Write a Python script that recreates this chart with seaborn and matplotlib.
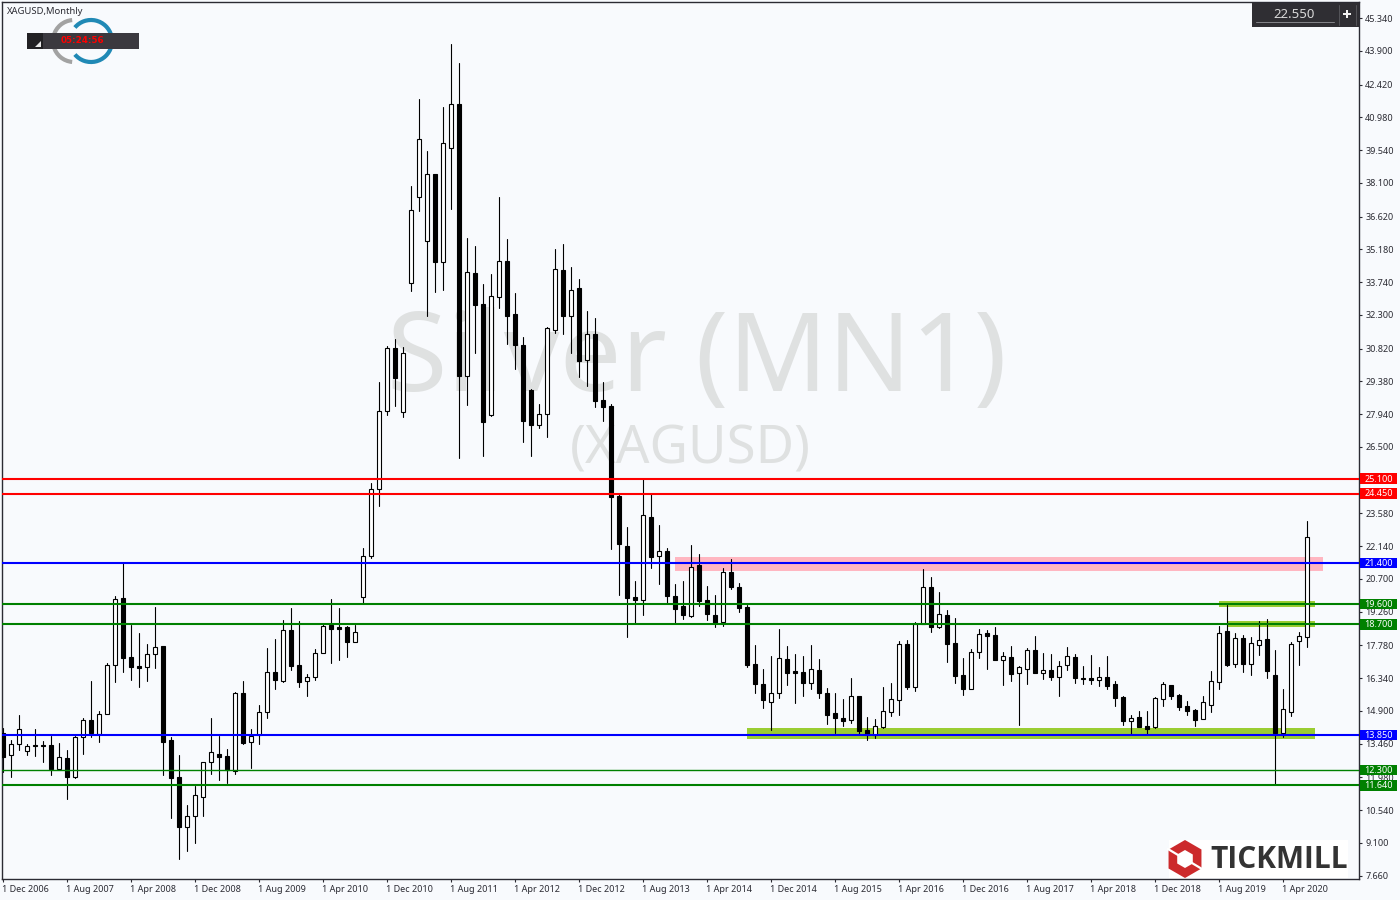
import numpy as np
import pandas as pd
import matplotlib
matplotlib.use("Agg")
import matplotlib.pyplot as plt
import matplotlib.transforms as mtrans
import seaborn as sns
from matplotlib.patches import Rectangle, Arc, Polygon, RegularPolygon

# monthly XAGUSD candles, Dec 2006 to Jul 2020
opens = [13.92, 12.95, 13.47, 13.12, 13.39, 13.39, 13.39, 12.36, 12.82, 12.01,
         13.74, 14.49, 13.90, 14.75, 16.90, 19.85, 17.25, 16.87, 16.81, 17.39,
         17.74, 13.61, 12.02, 9.81, 10.27, 11.10, 12.64, 12.99, 12.90, 12.26,
         15.69, 13.55, 13.84, 14.84, 16.60, 16.23, 18.44, 16.91, 16.23, 16.41,
         17.43, 18.68, 18.57, 18.57, 17.95, 19.92, 21.72, 24.67, 28.06, 30.83,
         28.02, 33.69, 37.47, 35.53, 38.48, 34.64, 39.62, 41.55, 29.63, 34.14,
         32.77, 27.92, 33.07, 34.66, 32.33, 30.96, 29.00, 27.48, 27.93, 31.65,
         34.27, 32.27, 33.47, 30.31, 31.46, 28.55, 28.30, 24.34, 22.15, 19.90,
         19.79, 23.42, 21.69, 21.91, 19.95, 19.51, 19.08, 21.31, 19.77, 19.11,
         18.79, 21.00, 20.34, 19.46, 16.96, 16.08, 15.30, 15.70, 17.18, 16.65,
         16.61, 16.11, 16.70, 15.69, 14.81, 14.59, 14.50, 15.55, 14.06, 13.84,
         14.19, 14.85, 15.38, 17.84, 15.95, 18.72, 20.34, 18.59, 19.11, 17.88,
         16.48, 15.86, 17.49, 18.32, 18.23, 17.14, 17.27, 16.56, 16.74, 17.58,
         16.56, 16.70, 16.39, 16.92, 17.27, 16.33, 16.35, 16.27, 16.39, 16.08,
         15.51, 14.47, 14.63, 14.24, 14.19, 15.41, 16.04, 15.60, 15.12, 14.94,
         14.56, 15.18, 16.19, 18.41, 16.98, 18.11, 16.98, 17.81, 18.06, 16.48,
         13.95, 14.87, 17.99, 18.16]
closes = [12.86, 13.47, 14.09, 13.34, 13.38, 13.37, 12.36, 12.86, 12.01, 13.74,
          14.49, 13.94, 14.75, 16.90, 19.80, 17.21, 16.84, 16.80, 17.39, 17.69,
          13.55, 11.97, 9.81, 10.27, 11.19, 12.64, 13.08, 12.89, 12.30, 15.67,
          13.49, 13.80, 14.84, 16.60, 16.27, 18.44, 16.89, 16.19, 16.41, 17.43,
          18.62, 18.52, 18.52, 17.95, 18.38, 21.72, 24.67, 28.06, 30.83, 29.55,
          30.61, 36.90, 40.02, 38.48, 34.64, 39.84, 41.55, 29.63, 34.17, 32.74,
          27.61, 33.12, 34.66, 32.27, 30.99, 27.65, 27.48, 27.93, 31.71, 34.30,
          32.27, 33.38, 30.29, 31.45, 28.53, 28.27, 24.31, 22.25, 19.87, 19.77,
          23.49, 21.68, 21.91, 19.96, 19.39, 19.11, 21.21, 19.74, 19.16, 18.75,
          20.99, 20.34, 19.42, 16.92, 16.10, 15.39, 15.67, 17.21, 16.56, 16.56,
          16.13, 16.73, 15.69, 14.72, 14.59, 14.46, 15.55, 14.02, 13.84, 14.24,
          14.89, 15.42, 17.84, 15.95, 18.72, 20.34, 18.59, 19.16, 17.84, 16.43,
          15.86, 17.49, 18.28, 18.19, 17.14, 17.31, 16.52, 16.83, 17.58, 16.56,
          16.70, 16.39, 16.87, 17.31, 16.34, 16.30, 16.26, 16.38, 16.00, 15.47,
          14.46, 14.58, 14.19, 14.11, 15.45, 16.07, 15.56, 15.07, 14.90, 14.50,
          15.28, 16.20, 18.31, 16.92, 18.09, 16.96, 17.87, 18.00, 16.66, 13.93,
          14.97, 17.83, 18.18, 22.53]
highs = [14.13, 13.62, 14.72, 13.47, 14.10, 13.58, 13.81, 13.49, 13.18, 13.78,
         14.59, 16.21, 14.88, 17.00, 19.95, 21.38, 18.67, 18.32, 17.84, 19.47,
         17.76, 13.77, 12.96, 10.75, 11.60, 12.66, 14.59, 13.81, 13.23, 15.73,
         16.22, 14.11, 15.16, 17.67, 18.06, 18.90, 19.42, 18.85, 16.51, 17.62,
         18.72, 19.82, 19.42, 18.63, 18.69, 22.05, 24.90, 29.35, 30.94, 31.24,
         30.88, 37.97, 41.79, 39.50, 38.48, 41.44, 44.20, 43.37, 35.67, 35.33,
         33.66, 34.10, 37.48, 35.64, 33.26, 31.33, 29.03, 28.39, 31.78, 35.20,
         35.42, 34.41, 33.88, 32.47, 32.16, 29.35, 28.37, 24.42, 22.98, 20.61,
         25.07, 24.43, 23.07, 22.04, 20.46, 20.61, 22.19, 21.79, 20.39, 19.99,
         21.18, 21.57, 20.52, 19.55, 17.80, 16.74, 17.31, 18.50, 17.75, 17.40,
         17.31, 17.80, 17.18, 15.91, 15.69, 15.42, 16.34, 15.55, 14.63, 14.54,
         15.95, 16.12, 17.97, 18.01, 18.81, 21.13, 20.78, 20.12, 19.33, 18.98,
         17.22, 17.62, 18.50, 18.45, 18.59, 17.49, 17.75, 16.87, 17.66, 18.19,
         17.44, 17.40, 17.09, 17.71, 17.40, 16.88, 17.36, 16.83, 17.31, 16.22,
         15.56, 14.72, 14.90, 14.90, 15.51, 16.16, 16.04, 15.65, 15.34, 14.99,
         15.56, 16.66, 18.63, 19.56, 18.33, 18.24, 18.15, 18.85, 18.94, 17.58,
         15.86, 17.93, 18.37, 23.25]
lows = [12.23, 12.01, 13.18, 12.96, 12.92, 12.67, 12.08, 12.30, 11.04, 11.95,
        13.01, 13.77, 13.53, 14.75, 16.17, 16.62, 16.26, 15.96, 16.21, 16.79,
        12.08, 10.19, 8.39, 8.74, 9.09, 10.28, 12.13, 11.86, 11.73, 12.13,
        13.45, 12.39, 13.45, 14.61, 15.87, 16.17, 16.71, 15.97, 15.56, 16.27,
        17.43, 17.02, 17.15, 17.29, 17.95, 19.63, 21.64, 23.92, 27.91, 28.32,
        27.83, 33.37, 36.87, 32.27, 33.32, 33.41, 36.95, 26.03, 28.34, 30.64,
        26.10, 27.86, 32.60, 31.04, 29.92, 26.72, 26.12, 27.35, 26.95, 31.52,
        31.46, 30.64, 29.57, 29.18, 28.25, 27.65, 22.03, 20.01, 18.16, 18.75,
        19.11, 21.19, 20.48, 19.63, 18.75, 18.95, 19.03, 19.51, 18.89, 18.59,
        18.63, 20.26, 19.24, 16.84, 15.69, 15.03, 14.06, 15.47, 16.04, 15.25,
        15.55, 15.86, 15.47, 14.32, 13.93, 14.24, 14.37, 13.89, 13.62, 13.71,
        14.15, 14.68, 14.72, 15.86, 15.77, 18.72, 18.37, 18.54, 17.05, 16.13,
        15.60, 15.86, 17.22, 16.74, 17.14, 16.04, 16.21, 14.28, 16.08, 16.56,
        16.30, 16.26, 15.55, 16.70, 16.13, 16.08, 16.08, 16.00, 15.86, 15.12,
        14.28, 13.84, 14.19, 13.84, 14.15, 15.12, 15.43, 14.94, 14.72, 14.24,
        14.56, 14.85, 15.88, 16.88, 16.83, 16.61, 16.48, 17.36, 16.35, 11.69,
        13.76, 14.68, 16.92, 17.71]

# axis labels
price_ticks = [45.34, 43.90, 42.42, 40.98, 39.54, 38.10, 36.62, 35.18, 33.74,
               32.30, 30.82, 29.38, 27.94, 26.50, 25.06, 23.58, 22.14, 20.70,
               19.26, 17.78, 16.34, 14.90, 13.46, 11.98, 10.54, 9.10, 7.66]
date_labels = ["1 Dec 2006", "1 Aug 2007", "1 Apr 2008", "1 Dec 2008", "1 Aug 2009",
               "1 Apr 2010", "1 Dec 2010", "1 Aug 2011", "1 Apr 2012", "1 Dec 2012",
               "1 Aug 2013", "1 Apr 2014", "1 Dec 2014", "1 Aug 2015", "1 Apr 2016",
               "1 Dec 2016", "1 Aug 2017", "1 Apr 2018", "1 Dec 2018", "1 Aug 2019",
               "1 Apr 2020"]

# horizontal levels and zones
level_prices = [25.10, 24.45, 21.40, 19.60, 18.70, 13.85, 12.30, 11.64]
level_colors = ["#ff0000", "#ff0000", "#0000ff", "#008000", "#008000", "#0000ff", "#008000", "#008000"]
level_widths = [1.5, 1.5, 1.5, 1.5, 1.5, 1.5, 1.0, 1.5]
# zone: first month, last month, low, high, colour
zones = [(84, 165, 21.05, 21.66, "#ffb6c1"),
         (93, 164, 13.66, 14.15, "#9acd32"),
         (152, 164, 19.47, 19.73, "#9acd32"),
         (153, 164, 18.59, 18.85, "#9acd32")]

BG = "#f8fafd"
INK = "#2b2b33"

sns.set_theme(style="white")
plt.rcParams["font.family"] = ["Noto Sans", "DejaVu Sans"]
plt.rcParams["axes.unicode_minus"] = False

fig = plt.figure(figsize=(14, 9), dpi=100, facecolor=BG)
# plot area runs from x=2 to x=1359, y=2 to y=879 in pixels
ax = fig.add_axes([2 / 1400, 1 - 879 / 900, 1357 / 1400, 877 / 900], facecolor=BG)

months = np.arange(len(opens))

# watermark goes under everything
ax.text(697 / 1400, 1 - 362 / 900, "Silver (MN1)", transform=fig.transFigure, ha="center", va="center",
        fontsize=79, color="#dfe1e1", zorder=0)
ax.text(690 / 1400, 1 - 450 / 900, "(XAGUSD)", transform=fig.transFigure, ha="center", va="center",
        fontsize=38, color="#dfe1e1", zorder=0)

for start, end, low, high, color in zones:
    ax.add_patch(Rectangle((start, low), end - start, high - low, facecolor=color, edgecolor="none", zorder=1))

# wicks
wicks = pd.DataFrame({
    "month": np.concatenate([months, months]),
    "price": highs + lows,
})
sns.lineplot(data=wicks, x="month", y="price", units="month", estimator=None, sort=False,
             color="black", linewidth=0.8, legend=False, ax=ax, zorder=2)

# candle bodies
o = np.array(opens)
c = np.array(closes)
body_colors = ["white" if up else "black" for up in c >= o]
ax.bar(months, c - o, bottom=o, width=0.5, color=body_colors, edgecolor="black", linewidth=0.8, zorder=3)

for price, color, lw in zip(level_prices, level_colors, level_widths):
    ax.axhline(price, color=color, linewidth=lw, zorder=4)

ax.set_xlim(-0.125, 169.5)
ax.set_ylim(7.517, 46.05)
ax.set_xlabel("")
ax.set_ylabel("")

ax.yaxis.tick_right()
ax.set_yticks(price_ticks)
ax.set_yticklabels([f"{p:.3f}" for p in price_ticks])
ax.set_xticks(np.arange(len(date_labels)) * 8)
ax.set_xticklabels(date_labels, ha="left")
ax.tick_params(axis="both", which="major", direction="out", length=2.5, width=0.8, color=INK,
               labelcolor=INK, labelsize=6.5, bottom=True, right=True, left=False, top=False)
ax.tick_params(axis="y", pad=2)
ax.tick_params(axis="x", pad=2)
# date labels start a pixel left of their tick
shift = mtrans.ScaledTranslation(-1 / 100, 0, fig.dpi_scale_trans)
for lab in ax.get_xticklabels():
    lab.set_transform(lab.get_transform() + shift)
for spine in ax.spines.values():
    spine.set_color(INK)
    spine.set_linewidth(1.0)

# price tags next to the axis
trans = ax.get_yaxis_transform()
for price, color in zip(level_prices, level_colors):
    ax.add_patch(Rectangle((1.0007, price - 0.235), 0.0275, 0.47, transform=trans, facecolor=color,
                           edgecolor="none", clip_on=False, zorder=6))
    ax.text(1.0145, price - 0.01, f"{price:.3f}", transform=trans, ha="center", va="center", color="white",
            fontsize=6.5, clip_on=False, zorder=7)

# everything else is terminal decoration, placed in pixels
over = fig.add_axes([0, 0, 1, 1])
over.axis("off")
over.patch.set_alpha(0)

over.text(7, 11, "XAGUSD,Monthly", fontsize=6.8, color=INK, va="center", ha="left")

# small logo with countdown bar
over.add_patch(Arc((74, 41), 42, 42, theta1=95, theta2=165, color="#a2a2a2", linewidth=3))
over.add_patch(Arc((74, 41), 42, 42, theta1=195, theta2=265, color="#a2a2a2", linewidth=3))
over.add_patch(Arc((91, 41), 42, 42, theta1=15, theta2=140, color="#2089b5", linewidth=3))
over.add_patch(Arc((91, 41), 42, 42, theta1=220, theta2=345, color="#2089b5", linewidth=3))
over.add_patch(Rectangle((27, 33), 112, 16, facecolor="#3b393f", edgecolor="none"))
over.add_patch(Rectangle((27, 33), 16, 16, facecolor="#222124", edgecolor="none"))
over.add_patch(Polygon([(35, 47), (41, 47), (41, 41)], facecolor="#e8e8e8", edgecolor="none"))
over.text(82, 40.5, "05:24:56", fontsize=6.3, color="#ff0000", fontweight="bold", family="DejaVu Sans",
          ha="center", va="center")

# current price box
over.add_patch(Rectangle((1252, 3), 107, 24, facecolor="#2f2e33", edgecolor="none"))
over.plot([1256, 1334], [22, 22], color="#85858a", linewidth=0.7)
over.plot([1339, 1339], [5, 25], color="#55555a", linewidth=0.7)
over.plot([1356, 1356], [5, 25], color="#55555a", linewidth=0.7)
over.text(1294, 14.5, "22.550", fontsize=9.5, color="#d8d8d8", ha="center", va="center")
over.plot([1347], [14], marker="P", markersize=5.5, color="#f2f2f2", markeredgewidth=0)

# broker logo, bottom right
over.add_patch(Rectangle((1169, 840), 179, 38, facecolor="white", edgecolor="none", zorder=1))
over.add_patch(RegularPolygon((1185, 859), numVertices=6, radius=19, orientation=0, facecolor="#cc2a2c",
                              edgecolor="none", zorder=2))
over.add_patch(RegularPolygon((1185, 859), numVertices=6, radius=9, orientation=0, facecolor="white",
                              edgecolor="none", zorder=3))
over.plot([1168, 1178], [849, 855], color="white", linewidth=1.6, zorder=4)
over.plot([1192, 1202], [863, 869], color="white", linewidth=1.6, zorder=4)
over.text(1279, 859.5, "TICKMILL", fontsize=21.5, fontweight="bold", family="Open Sans", color="#333333",
          ha="center", va="center", zorder=5)
over.set_xlim(0, 1400)
over.set_ylim(900, 0)

fig.savefig("out.png", dpi=100, facecolor=BG)
